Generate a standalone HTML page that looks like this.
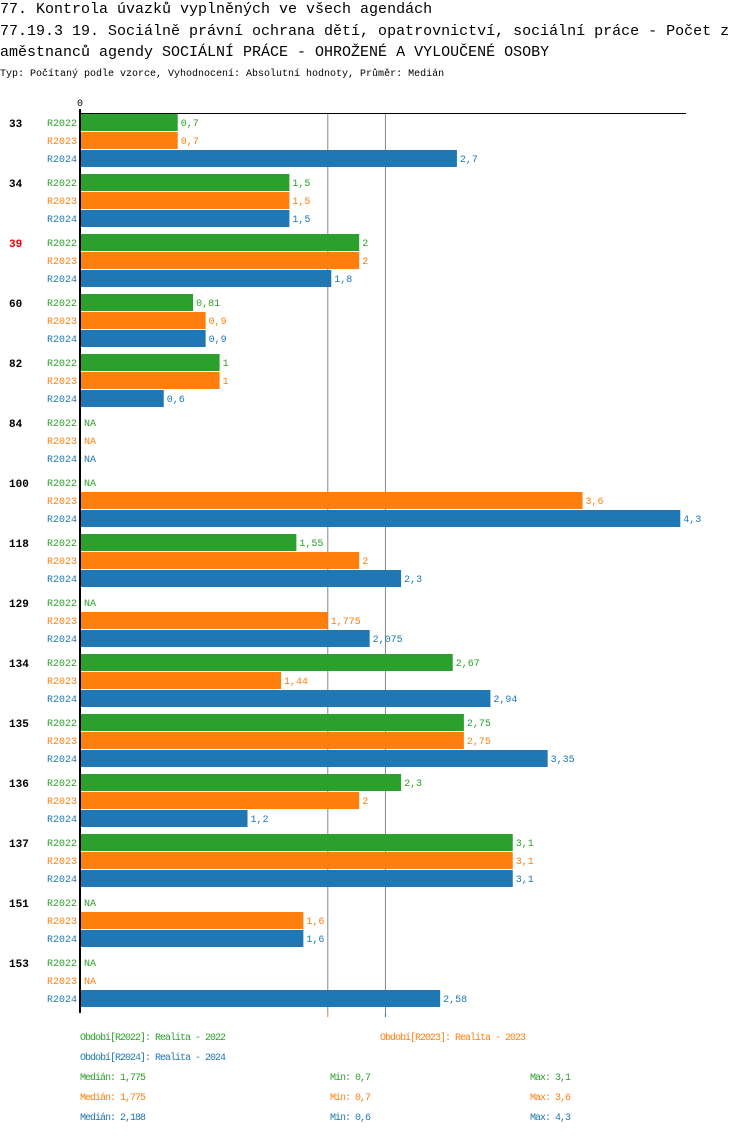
<!DOCTYPE html>
<html><head><meta charset="utf-8"><style>
body{margin:0;background:#fff;width:750px;height:1134px;overflow:hidden;font-family:"Liberation Mono",monospace}
svg text{font-family:"Liberation Mono",monospace}
</style></head><body>
<svg width="750" height="1134" id="c">
<text x="0" y="13" font-size="15">77. Kontrola úvazků vyplněných ve všech agendách</text>
<text x="0" y="35" font-size="15">77.19.3 19. Sociálně právní ochrana dětí, opatrovnictví, sociální práce - Počet z</text>
<text x="0" y="56" font-size="15">aměstnanců agendy SOCIÁLNÍ PRÁCE - OHROŽENÉ A VYLOUČENÉ OSOBY</text>
<text x="0" y="76" font-size="10">Typ: Počítaný podle vzorce, Vyhodnocení: Absolutní hodnoty, Průměr: Medián</text>
<g id="plot"></g>
</svg>
<script>
const groups=["33","34","39","60","82","84","100","118","129","134","135","136","137","151","153"];
const series=["R2022","R2023","R2024"];
const v2022=[0.7,1.5,2,0.81,1,null,null,1.55,null,2.67,2.75,2.3,3.1,null,null];
const v2023=[0.7,1.5,2,0.9,1,null,3.6,2,1.775,1.44,2.75,2,3.1,1.6,null];
const v2024=[2.7,1.5,1.8,0.9,0.6,null,4.3,2.3,2.075,2.94,3.35,1.2,3.1,1.6,2.58];
const medians=[1.775,1.775,2.188];
const mins=["0,7","0,7","0,6"];
const maxs=["3,1","3,6","4,3"];
const legendNames=["Období[R2022]: Realita - 2022","Období[R2023]: Realita - 2023","Období[R2024]: Realita - 2024"];
const colors=["#2ca02c","#ff7f0e","#1f77b4"];
const vals=[v2022,v2023,v2024];
const NS="http://www.w3.org/2000/svg";
const plotG=document.getElementById('plot');
const xs=v=>80+v*139.6;
function el(t,a,txt){const e=document.createElementNS(NS,t);for(const k in a)e.setAttribute(k,a[k]);if(txt!=null)e.textContent=txt;plotG.appendChild(e);return e;}
const fmt=v=>String(v).replace('.',',');
[medians[1],medians[2]].forEach((m,i)=>{
 const l=el('line',{x1:xs(m),x2:xs(m),y1:113,y2:1013,stroke:'#888','stroke-width':1});
 
 
 const t=el('line',{x1:xs(m),x2:xs(m),y1:1013,y2:1017,stroke:colors[i+1],'stroke-width':1});
 
 
});
const topAxis=el('line',{x1:80,x2:686,y1:113.5,y2:113.5,stroke:'#000','stroke-width':1});


const zl=el('text',{x:77,y:106,'font-size':10},'0');


groups.forEach((gn,i)=>{
 const y0=114+i*60;
 const gl=el('text',{x:9,y:y0+13,'font-size':11,'font-weight':'bold',fill:gn==="39"?'#e00':'#000'},gn);
 
 
 series.forEach((s,j)=>{
  const yy=y0+j*18;
  const sl=el('text',{x:47,y:yy+12,'font-size':10,fill:colors[j]},s);
  
  
  const v=vals[j][i];
  if(v==null){
   const na=el('text',{x:84,y:yy+12,'font-size':10,fill:colors[j]},'NA');
   
   
  }else{
   const r=el('rect',{x:81,y:yy,width:xs(v)-81,height:17,fill:colors[j]});
   
   
   const t=el('text',{x:xs(v)+3,y:yy+12,'font-size':10,fill:colors[j]},fmt(v));
   
   
  }
 });
});
const ax=el('line',{x1:80,x2:80,y1:109,y2:1013,stroke:'#000','stroke-width':2});


const lp=[[80,1040],[380,1040],[80,1060]];
legendNames.forEach((n,i)=>{
 const t=el('text',{x:lp[i][0],y:lp[i][1],'font-size':10,fill:colors[i],'letter-spacing':'-1'},n);
 
 
});
medians.forEach((m,i)=>{
 const y=1080+i*20;
 const a=el('text',{x:80,y:y,'font-size':10,fill:colors[i],'letter-spacing':'-1'},'Medián: '+fmt(m));
 
 
 const b=el('text',{x:330,y:y,'font-size':10,fill:colors[i],'letter-spacing':'-1'},'Min: '+mins[i]);
 
 
 const c=el('text',{x:530,y:y,'font-size':10,fill:colors[i],'letter-spacing':'-1'},'Max: '+maxs[i]);
 
 
});
</script>
</body></html>
